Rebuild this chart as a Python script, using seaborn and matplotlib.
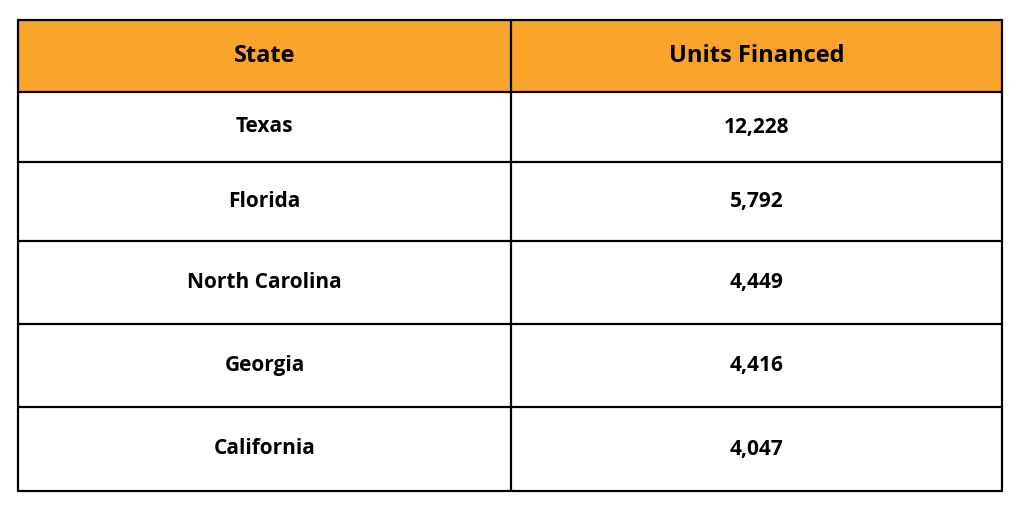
import matplotlib
matplotlib.use("Agg")
import matplotlib.pyplot as plt
import seaborn as sns

# table data
headers = ["State", "Units Financed"]
states = ["Texas", "Florida", "North Carolina", "Georgia", "California"]
units = [12228, 5792, 4449, 4416, 4047]

sns.set_theme(style="white")
plt.rcParams["font.family"] = ["Open Sans", "DejaVu Sans"]

W, H = 1024, 511
fig = plt.figure(figsize=(W / 100, H / 100), dpi=100)
ax = fig.add_axes([0, 0, 1, 1])
ax.set_xlim(0, W)
ax.set_ylim(H, 0)
ax.axis("off")

left, mid, right = 18, 511, 1002
row_edges = [20, 92, 162, 241, 324, 407, 491]
orange = "#F9A42A"

ax.fill_between([left, right], row_edges[0], row_edges[1], color=orange, lw=0)

for y in row_edges:
    ax.plot([left, right], [y, y], color="black", lw=1.6)
for x in (left, mid, right):
    ax.plot([x, x], [row_edges[0], row_edges[-1]], color="black", lw=1.6)

cx = [(left + mid) / 2, (mid + right) / 2]
hy = (row_edges[0] + row_edges[1]) / 2
for x, h in zip(cx, headers):
    ax.text(x, hy, h, ha="center", va="center", fontsize=17, fontweight="bold", color="black")

for i, (s, u) in enumerate(zip(states, units)):
    y = (row_edges[i + 1] + row_edges[i + 2]) / 2
    ax.text(cx[0], y, s, ha="center", va="center", fontsize=15, fontweight="bold", color="black")
    ax.text(cx[1], y, f"{u:,}", ha="center", va="center", fontsize=15, fontweight="bold", color="black")

fig.savefig("out.png", dpi=100, facecolor="white")
